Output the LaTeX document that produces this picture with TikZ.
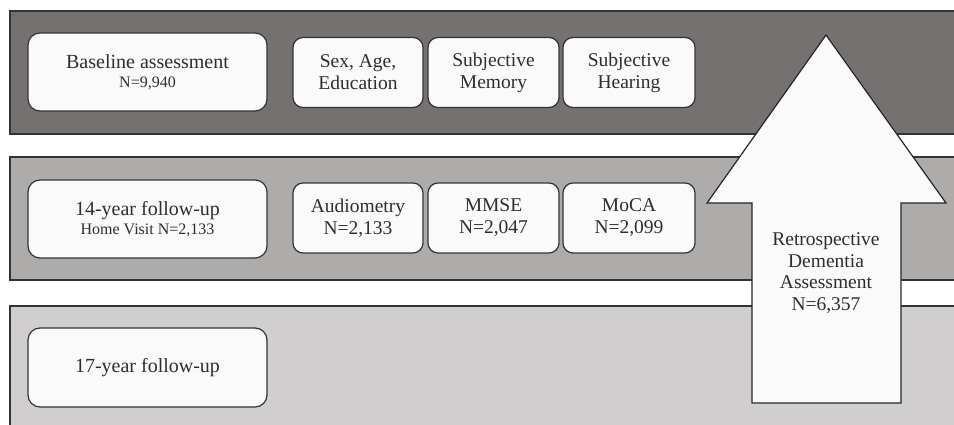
\documentclass[tikz,border=0pt]{standalone}
\usepackage{fontspec}
\setmainfont{Liberation Serif}
\begin{document}
\begin{tikzpicture}[x=1pt,y=-1pt,
  band/.style={draw=black!80,line width=1.2pt},
  bigbox/.style={draw=black!80,line width=1.2pt,fill=white!98!black,rounded corners=12pt,minimum width=239pt,minimum height=78pt,inner sep=0pt,align=center,text=black!82,font=\fontsize{20}{21}\selectfont},
  smallbox/.style={draw=black!80,line width=1.2pt,fill=white!98!black,rounded corners=10pt,minimum height=70pt,inner sep=0pt,align=center,text=black!82,font=\fontsize{19.5}{22}\selectfont},
  subline/.style={font=\fontsize{16}{17}\selectfont}]
\definecolor{bandA}{HTML}{757170}
\definecolor{bandB}{HTML}{AEABAB}
\definecolor{bandC}{HTML}{D0CECF}
\useasboundingbox (0,0) rectangle (954,425);
\clip (0,0) rectangle (954,425);
\fill[white] (0,0) rectangle (954,425);
% bands
\draw[band,fill=bandA] (10,11) rectangle (970,134);
\draw[band,fill=bandB] (10,157) rectangle (970,280);
\draw[band,fill=bandC] (10,306) rectangle (970,440);
% row 1
\node[bigbox] (base) at (147.5,72) {Baseline assessment\\[-2pt]{\fontsize{16}{17}\selectfont N=9,940}};
\node[smallbox,minimum width=130pt] (sex) at (358,72.5) {Sex, Age,\\Education};
\node[smallbox,minimum width=131pt] (mem) at (493.5,72.5) {Subjective\\Memory};
\node[smallbox,minimum width=132pt] (hear) at (629,72.5) {Subjective\\Hearing};
% row 2
\node[bigbox] (fu14) at (147.5,219) {14-year follow-up\\[-2pt]{\fontsize{16}{17}\selectfont Home Visit N=2,133}};
\node[smallbox,minimum width=130pt] (aud) at (358,218) {Audiometry\\N=2,133};
\node[smallbox,minimum width=131pt] (mmse) at (493.5,218) {MMSE\\N=2,047};
\node[smallbox,minimum width=132pt] (moca) at (629,218) {MoCA\\N=2,099};
% row 3
\node[bigbox,minimum height=79pt] (fu17) at (147.5,367.5) {17-year follow-up};
% arrow
\draw[draw=black!85,line width=1.2pt,fill=white!98!black]
  (826,35) -- (946,203) -- (901,203) -- (901,403) -- (752,403) -- (752,203) -- (707,203) -- cycle;
\node[align=center,text=black!82,font=\fontsize{19.5}{21.5}\selectfont] (retro) at (826,273) {Retrospective\\Dementia\\Assessment\\N=6,357};
\end{tikzpicture}
\end{document}
